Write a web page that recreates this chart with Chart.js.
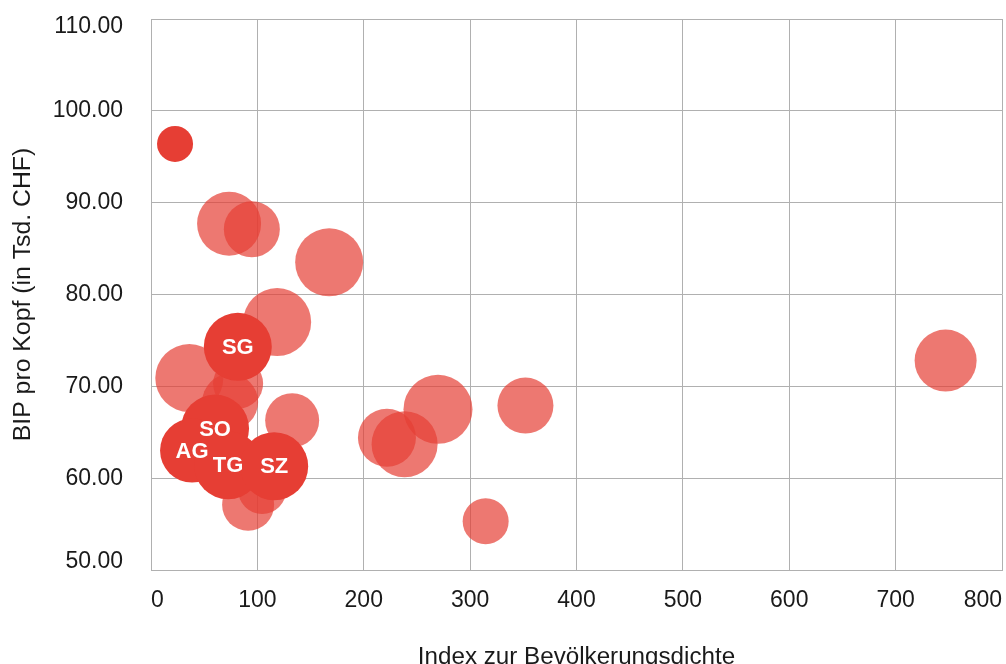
<html lang="de">
<head>
    <meta charset="UTF-8">
    <script src="https://cdn.jsdelivr.net/npm/chart.js@4.4.1/dist/chart.umd.min.js"></script>
    <title>BIP pro Kopf</title>
    <style>
        html, body { margin: 0; padding: 0; overflow: hidden; background: #fff; }
        #wrap { width: 1006px; height: 672px; position: relative; }
    </style>
</head>
<body>
    <div id="wrap">
        <canvas id="myChart"></canvas>
    </div>

    <script>
        // Kantone hervorgehoben (deckend, mit Beschriftung)
        var hiLabels = ["", "SG", "SO", "AG", "TG", "SZ"];
        var hiDensity = [22.6, 81.6, 60.2, 38.6, 72.5, 115.8];
        var hiGdp = [96.4, 74.3, 65.4, 63.0, 61.4, 61.3];
        var hiSize = [18, 34, 34, 32, 34, 34];

        // uebrige Kantone (transparent)
        var otherDensity = [73.4, 94.8, 167.5, 118.6, 36, 81.9, 74.4, 91.3, 104.5, 132.7, 221.8, 238.4, 269.8, 352, 314.6, 747];
        var otherGdp = [87.7, 87.1, 83.5, 77.0, 70.9, 70.3, 68.3, 57.1, 58.7, 66.3, 64.4, 63.7, 67.5, 67.9, 55.3, 72.8];
        var otherSize = [32, 28, 34, 34, 34, 25, 28, 26, 24, 27, 29, 33, 34.5, 28, 23, 31];

        var xTicks = [0, 100, 200, 300, 400, 500, 600, 700, 800];
        var yTicks = [50, 60, 70, 80, 90, 100, 110];

        var fontFam = '"Liberation Sans", Arial, sans-serif';

        function toPoints(xs, ys, rs) {
            var pts = [];
            for (var i = 0; i < xs.length; i++) {
                pts.push({ x: xs[i], y: ys[i], r: rs[i] });
            }
            return pts;
        }

        // Kuerzel in die Blasen schreiben
        var bubbleLabels = {
            id: 'bubbleLabels',
            afterDatasetsDraw(chart) {
                var ctx = chart.ctx;
                var meta = chart.getDatasetMeta(0);
                ctx.save();
                ctx.fillStyle = '#ffffff';
                ctx.font = 'bold 22px ' + fontFam;
                ctx.textAlign = 'center';
                ctx.textBaseline = 'middle';
                meta.data.forEach(function (pt, i) {
                    if (hiLabels[i]) ctx.fillText(hiLabels[i], pt.x, pt.y + 1);
                });
                ctx.restore();
            }
        };

        // oberste und unterste y-Beschriftung nach innen ruecken
        var innerYLabels = {
            id: 'innerYLabels',
            beforeDraw(chart) {
                var items = chart.scales.y.getLabelItems();
                if (items._shifted) return;
                items[0].options.translation[1] -= 8;
                items[items.length - 1].options.translation[1] += 8;
                items._shifted = true;
            }
        };

        var gridColor = '#b0b0b0';

        new Chart(document.getElementById('myChart'), {
            type: 'bubble',
            data: {
                datasets: [
                    {
                        label: 'hervorgehoben',
                        data: toPoints(hiDensity, hiGdp, hiSize),
                        backgroundColor: 'rgb(230,62,52)',
                        borderWidth: 0
                    },
                    {
                        label: 'Kantone',
                        data: toPoints(otherDensity, otherGdp, otherSize),
                        backgroundColor: 'rgba(230,62,52,0.7)',
                        borderWidth: 0
                    }
                ]
            },
            options: {
                responsive: true,
                maintainAspectRatio: false,
                animation: false,
                layout: { autoPadding: false, padding: { top: 19, right: 4, left: 0, bottom: 0 } },
                plugins: {
                    legend: { display: false },
                    tooltip: { enabled: false }
                },
                scales: {
                    x: {
                        type: 'linear',
                        min: 0,
                        max: 800,
                        afterBuildTicks: function (s) { s.ticks = xTicks.map(function (v) { return { value: v }; }); },
                        afterFit: function (s) {
                            s.height = 102;
                            s.paddingLeft = 0;
                            s.paddingRight = 0;
                        },
                        grid: { color: gridColor, lineWidth: 1, drawTicks: false },
                        border: { color: gridColor },
                        ticks: {
                            align: 'inner',
                            padding: 17,
                            color: '#1a1a1a',
                            font: { family: fontFam, size: 23 }
                        },
                        title: {
                            display: true,
                            text: 'Index zur Bevölkerungsdichte',
                            color: '#1a1a1a',
                            font: { family: fontFam, size: 24.2 },
                            padding: { top: 34, bottom: 0 }
                        }
                    },
                    y: {
                        type: 'linear',
                        min: 50,
                        max: 110,
                        afterBuildTicks: function (s) { s.ticks = yTicks.map(function (v) { return { value: v }; }); },
                        afterFit: function (s) {
                            s.width = 151;
                            s.paddingTop = 0;
                            s.paddingBottom = 0;
                        },
                        grid: { color: gridColor, lineWidth: 1, drawTicks: false },
                        border: { color: gridColor },
                        ticks: {
                            padding: 28,
                            color: '#1a1a1a',
                            font: { family: fontFam, size: 23 },
                            callback: function (v) { return v.toFixed(2); }
                        },
                        title: {
                            display: true,
                            text: 'BIP pro Kopf (in Tsd. CHF)',
                            color: '#1a1a1a',
                            font: { family: fontFam, size: 24.8 },
                            padding: { top: 8, bottom: 0 }
                        }
                    }
                }
            },
            plugins: [bubbleLabels, innerYLabels]
        });
    </script>
</body>
</html>
